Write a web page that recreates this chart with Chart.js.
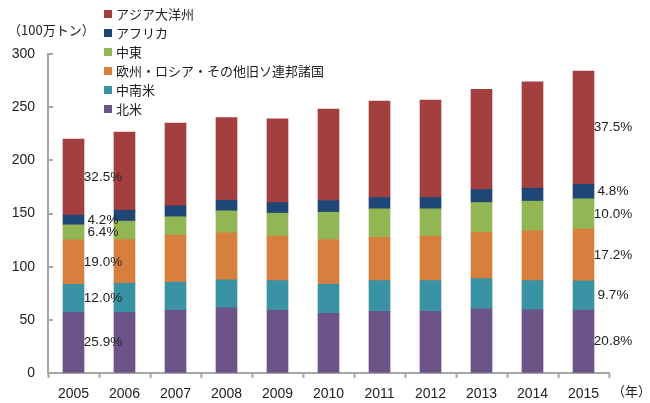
<!DOCTYPE html>
<html><head><meta charset="utf-8">
<script src="https://cdn.jsdelivr.net/npm/chart.js@4.4.1/dist/chart.umd.min.js"></script>
<style>html,body{margin:0;padding:0;background:#fff;}canvas{display:block;}</style>
</head><body>
<canvas id="c" width="650" height="403"></canvas>
<script>
const years = ['2005','2006','2007','2008','2009','2010','2011','2012','2013','2014','2015'];
const seriesNames = ['北米','中南米','欧州・ロシア・その他旧ソ連邦諸国','中東','アフリカ','アジア大洋州'];
const northAmerica = [57.0, 57.1, 59.0, 61.3, 59.0, 56.2, 58.1, 58.1, 60.3, 59.4, 59.1];
const centralSouthAmerica = [26.4, 27.3, 26.4, 26.3, 27.9, 27.3, 28.8, 28.8, 28.5, 27.5, 27.5];
const europeCis = [41.8, 41.1, 44.2, 44.2, 41.8, 42.0, 40.8, 41.8, 43.6, 47.1, 48.8];
const middleEast = [14.1, 17.3, 17.3, 20.7, 21.6, 25.7, 26.7, 25.7, 27.9, 27.6, 28.4];
const africa = [9.2, 10.3, 10.3, 10.0, 10.0, 11.0, 10.7, 10.7, 12.3, 12.2, 13.6];
const asiaOceania = [71.5, 73.4, 77.8, 77.7, 78.8, 86.0, 90.6, 91.5, 94.1, 100.1, 106.5];
const share2005 = ['25.9%','12.0%','19.0%','6.4%','4.2%','32.5%'];
const share2015 = ['20.8%','9.7%','17.2%','10.0%','4.8%','37.5%'];
const yTicks = [0, 50, 100, 150, 200, 250, 300];
const colors = ['#6C5489','#3A93A5','#D7803D','#93B655','#1F4775','#A43F3F'];
const allValues = [northAmerica, centralSouthAmerica, europeCis, middleEast, africa, asiaOceania];

const AXIS = '#a6a6a6';
const TXT = '#222';
const LATIN = '"Liberation Sans", Arial, sans-serif';
const CJK = '"Noto Sans CJK JP", sans-serif';

const datasets = allValues.map((v,i)=>({
  label: seriesNames[i], data: v, backgroundColor: colors[i],
  borderWidth: 0, barThickness: 21, stack: 's'
}));

const extras = {
  id: 'extras',
  afterDraw(chart){
    const ctx = chart.ctx;
    const ys = chart.scales.y;
    const left = chart.chartArea.left;
    ctx.save();
    // inner y ticks
    ctx.strokeStyle = AXIS; ctx.lineWidth = 2;
    yTicks.forEach(t=>{
      const y = Math.round(ys.getPixelForValue(t));
      ctx.beginPath(); ctx.moveTo(left, y); ctx.lineTo(left+5, y); ctx.stroke();
    });
    // percentage labels
    ctx.font = '13.5px ' + LATIN; ctx.fillStyle = TXT;
    ctx.textAlign = 'center'; ctx.textBaseline = 'middle';
    chart.data.datasets.forEach((ds,i)=>{
      const meta = chart.getDatasetMeta(i);
      [[0, share2005[i]], [years.length-1, share2015[i]]].forEach(([j,t])=>{
        const el = meta.data[j];
        const y = (el.y + el.base)/2;
        ctx.fillText(t, el.x + 29.5, y);
      });
    });
    // legend (reversed)
    ctx.font = '13px ' + CJK; ctx.textAlign = 'left';
    const n = chart.data.datasets.length;
    for (let k=0;k<n;k++){
      const ds = chart.data.datasets[n-1-k];
      const cy = 14 + k*19;
      ctx.fillStyle = ds.backgroundColor;
      ctx.fillRect(104, cy-4, 8, 8);
      ctx.fillStyle = TXT;
      ctx.fillText(ds.label, 116, cy);
    }
    // unit labels
    ctx.font = '13px ' + CJK;
    ctx.fillText('（100万トン）', 8, 30);
    ctx.fillText('（年）', 612, 391);
    ctx.restore();
  }
};

new Chart(document.getElementById('c'), {
  type: 'bar',
  data: { labels: years, datasets },
  options: {
    responsive: false, animation: false,
    layout: { padding: { left: 0, top: 54, right: 41, bottom: 0 } },
    plugins: { legend: { display: false }, tooltip: { enabled: false } },
    scales: {
      x: {
        stacked: true,
        grid: { display: true, drawOnChartArea: false, drawTicks: true, tickLength: 5, tickColor: AXIS, tickWidth: 2, offset: true },
        border: { display: true, color: AXIS, width: 2 },
        ticks: { color: TXT, font: { size: 14, family: LATIN }, padding: 8, maxRotation: 0 },
        afterFit(s){ s.height = 30; }
      },
      y: {
        stacked: true, min: 0, max: 300,
        grid: { display: true, drawOnChartArea: false, drawTicks: false },
        border: { display: true, color: AXIS, width: 2 },
        ticks: { stepSize: 50, color: TXT, font: { size: 14, family: LATIN }, padding: 13,
          callback: (v)=> yTicks.includes(v) ? String(v) : '' },
        afterFit(s){ s.width = 48; }
      }
    }
  },
  plugins: [extras]
});
</script>
</body></html>
